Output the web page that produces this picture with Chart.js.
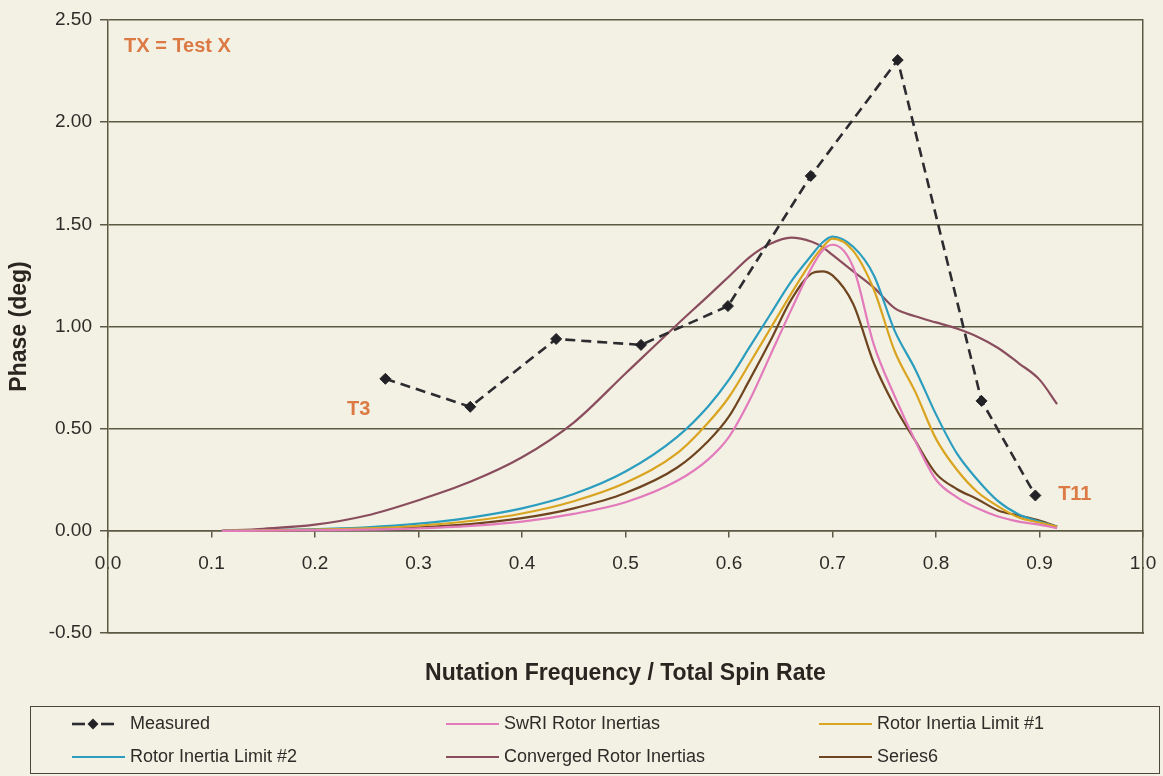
<!DOCTYPE html>
<html>
<head>
<meta charset="utf-8">
<title>Phase vs Nutation Frequency</title>
<script src="https://cdn.jsdelivr.net/npm/chart.js@4.4.1/dist/chart.umd.min.js"></script>
<style>
  html, body { margin: 0; padding: 0; background: #f3f1e4; }
  #wrap { position: relative; width: 1163px; height: 776px; overflow: hidden; }
  #chart { position: absolute; left: 0; top: 0; }
  #legend {
    position: absolute; left: 30px; top: 706px; width: 1130px; height: 68px;
    box-sizing: border-box; border: 1.5px solid #4c4838;
    display: grid; grid-template-columns: 374px 373px 1fr; grid-template-rows: 33px 33px;
    padding-left: 41px; padding-top: 0;
    font: 18px "Liberation Sans", Arial, sans-serif; color: #2f2b28;
  }
  #legend .item { display: flex; align-items: center; white-space: nowrap; }
  #legend svg { margin-right: 5px; flex: none; }
</style>
</head>
<body>
<div id="wrap">
  <canvas id="chart" width="1163" height="776"></canvas>
  <div id="legend"></div>
</div>
<script>
// Nutation frequency ratio grid shared by the model curves
const ratio = [0.11, 0.15, 0.20, 0.25, 0.30, 0.35, 0.40, 0.45, 0.50, 0.55, 0.58, 0.60, 0.62, 0.64,
               0.66, 0.68, 0.69, 0.70, 0.72, 0.74, 0.76, 0.78, 0.80, 0.82, 0.84, 0.86, 0.88, 0.90, 0.917];

// Phase (deg) for each model on the ratio grid
const swriPhase      = [0.00, 0.001, 0.003, 0.006, 0.012, 0.024, 0.045, 0.083, 0.14, 0.245, 0.35, 0.46, 0.64, 0.86,
                        1.08, 1.29, 1.37, 1.40, 1.29, 0.91, 0.66, 0.44, 0.25, 0.165, 0.11, 0.07, 0.045, 0.03, 0.013];
const limit1Phase    = [0.00, 0.002, 0.006, 0.012, 0.025, 0.048, 0.085, 0.145, 0.235, 0.38, 0.53, 0.655, 0.82, 0.99,
                        1.16, 1.32, 1.385, 1.43, 1.37, 1.18, 0.88, 0.68, 0.45, 0.30, 0.19, 0.12, 0.065, 0.04, 0.02];
const limit2Phase    = [0.00, 0.003, 0.008, 0.017, 0.035, 0.065, 0.11, 0.18, 0.29, 0.46, 0.61, 0.74, 0.90, 1.06,
                        1.22, 1.35, 1.41, 1.44, 1.39, 1.25, 0.98, 0.79, 0.57, 0.38, 0.25, 0.145, 0.08, 0.045, 0.02];
const convergedPhase = [0.00, 0.01, 0.03, 0.075, 0.15, 0.24, 0.36, 0.53, 0.77, 1.01, 1.15, 1.245, 1.34, 1.405,
                        1.435, 1.415, 1.39, 1.35, 1.27, 1.19, 1.09, 1.05, 1.02, 0.99, 0.95, 0.895, 0.82, 0.74, 0.62];
const series6Phase   = [0.00, 0.001, 0.004, 0.008, 0.017, 0.033, 0.062, 0.11, 0.185, 0.31, 0.44, 0.56, 0.74, 0.93,
                        1.13, 1.26, 1.27, 1.25, 1.11, 0.82, 0.61, 0.44, 0.28, 0.205, 0.155, 0.10, 0.075, 0.05, 0.021];

// Measured test points (T3 ... T11)
const measuredRatio = [0.268, 0.350, 0.433, 0.515, 0.599, 0.679, 0.763, 0.844, 0.896];
const measuredPhase = [0.744, 0.607, 0.939, 0.910, 1.10, 1.737, 2.304, 0.636, 0.173];

// Axis ranges and tick steps
const xRange = [0, 1.0];
const yRange = [-0.5, 2.5];
const xStep = 0.1;
const yStep = 0.5;

// Text notes placed in data units
const notes = [
  { text: 'TX = Test X', x: 0.0155, y: 2.37 },
  { text: 'T3',          x: 0.231,  y: 0.595 },
  { text: 'T11',         x: 0.918,  y: 0.18 }
];

const FONT = '"Liberation Sans", Arial, Helvetica, sans-serif';
const INK = '#2f2b28';
const GRID = '#5c5a44';
const NOTE = '#dc7a45';

const pairs = (xs, ys) => xs.map((x, i) => ({ x, y: ys[i] }));

function curve(label, color, values) {
  return {
    label, data: pairs(ratio, values),
    borderColor: color, backgroundColor: color,
    borderWidth: 2.2, pointRadius: 0, pointHoverRadius: 0,
    cubicInterpolationMode: 'monotone', fill: false
  };
}

const datasets = [
  {
    label: 'Measured', data: pairs(measuredRatio, measuredPhase),
    borderColor: '#2c2c30', backgroundColor: '#2c2c30',
    pointBackgroundColor: '#222226', pointBorderColor: '#222226',
    borderWidth: 2.6, borderDash: [10, 6], tension: 0,
    pointStyle: 'rectRot', pointRadius: 5.5, pointBorderWidth: 1, fill: false
  },
  curve('SwRI Rotor Inertias', '#e27abb', swriPhase),
  curve('Rotor Inertia Limit #1', '#d9a41f', limit1Phase),
  curve('Rotor Inertia Limit #2', '#2b9dbf', limit2Phase),
  curve('Converged Rotor Inertias', '#8a4d5d', convergedPhase),
  curve('Series6', '#6e4520', series6Phase)
];

// Orange notes drawn over the plot
const notesPlugin = {
  id: 'notes',
  afterDatasetsDraw(chart) {
    const { ctx, scales: { x, y } } = chart;
    ctx.save();
    ctx.font = 'bold 20px ' + FONT;
    ctx.fillStyle = NOTE;
    ctx.textAlign = 'left';
    ctx.textBaseline = 'middle';
    notes.forEach(n => ctx.fillText(n.text, x.getPixelForValue(n.x), y.getPixelForValue(n.y)));
    ctx.restore();
  }
};

Chart.defaults.font.family = FONT;
Chart.defaults.color = INK;

const chart = new Chart(document.getElementById('chart'), {
  type: 'line',
  data: { datasets },
  plugins: [notesPlugin],
  options: {
    responsive: false,
    animation: false,
    devicePixelRatio: 1,
    layout: { padding: { left: 0, top: 20, right: 0, bottom: 0 } },
    plugins: { legend: { display: false }, tooltip: { enabled: false } },
    scales: {
      x: {
        type: 'linear', min: xRange[0], max: xRange[1],
        position: { y: 0 },
        ticks: { stepSize: xStep, padding: 16, color: INK, font: { size: 19 },
                 maxRotation: 0, callback: v => Number(v).toFixed(1) },
        grid: { drawOnChartArea: false, drawTicks: true, tickLength: 6, color: GRID, lineWidth: 1.5 },
        border: { display: true, color: GRID, width: 1.5 },
        // labels sit inside the frame, so keep side padding to half a label
        afterFit: s => { s.paddingLeft = 14; s.paddingRight = 14; }
      },
      x2: {
        type: 'linear', min: xRange[0], max: xRange[1], position: 'bottom',
        ticks: { display: false },
        grid: { display: false },
        border: { display: true, color: GRID, width: 1.5 },
        title: { display: true, text: 'Nutation Frequency / Total Spin Rate',
                 color: '#2a2520', font: { size: 23, weight: 'bold' }, padding: { top: 0, bottom: 89 } },
        afterFit: s => { s.height = 143; }
      },
      y: {
        type: 'linear', min: yRange[0], max: yRange[1], position: 'left',
        ticks: { stepSize: yStep, padding: 8, color: INK, font: { size: 19 },
                 callback: v => Number(v).toFixed(2) },
        grid: { color: GRID, lineWidth: 1.5, drawTicks: true, tickLength: 8 },
        border: { display: true, color: GRID, width: 1.5 },
        title: { display: true, text: 'Phase (deg)', color: '#2a2520',
                 font: { size: 23, weight: 'bold' }, padding: { top: 6, bottom: 0 } },
        afterFit: s => { s.width = 108; }
      },
      y2: {
        type: 'linear', min: yRange[0], max: yRange[1], position: 'right',
        ticks: { display: false },
        grid: { display: false },
        border: { display: true, color: GRID, width: 1.5 },
        afterFit: s => { s.width = 20; }
      }
    }
  }
});

// Legend in two rows of three, built from the chart's datasets
function buildLegend(ch) {
  const box = document.getElementById('legend');
  const NS = 'http://www.w3.org/2000/svg';
  ch.data.datasets.forEach(ds => {
    const item = document.createElement('div');
    item.className = 'item';
    const svg = document.createElementNS(NS, 'svg');
    svg.setAttribute('width', '53');
    svg.setAttribute('height', '14');
    const line = (x1, x2, w) => {
      const l = document.createElementNS(NS, 'line');
      l.setAttribute('x1', x1); l.setAttribute('x2', x2);
      l.setAttribute('y1', 7); l.setAttribute('y2', 7);
      l.setAttribute('stroke', ds.borderColor);
      l.setAttribute('stroke-width', w);
      svg.appendChild(l);
    };
    if (ds.borderDash) {
      line(0, 13, 2.6);
      line(29, 42, 2.6);
      const d = document.createElementNS(NS, 'path');
      d.setAttribute('d', 'M21 1.5 L26.5 7 L21 12.5 L15.5 7 Z');
      d.setAttribute('fill', ds.pointBackgroundColor);
      svg.appendChild(d);
    } else {
      line(0, 53, 2.2);
    }
    const txt = document.createElement('span');
    txt.textContent = ds.label;
    item.appendChild(svg);
    item.appendChild(txt);
    box.appendChild(item);
  });
}
buildLegend(chart);
</script>
</body>
</html>
